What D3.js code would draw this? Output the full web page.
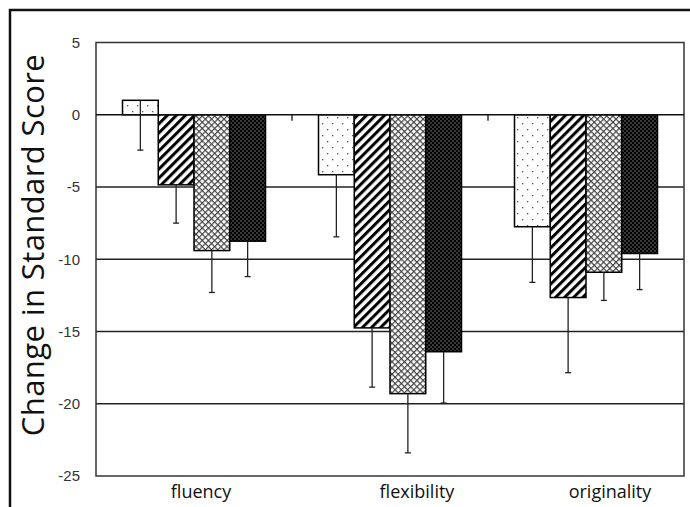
<!DOCTYPE html>
<html>
<head>
<meta charset="utf-8">
<script src="https://cdn.jsdelivr.net/npm/d3@7"></script>
<style>
  body { margin: 0; background: #fff; }
  svg { display: block; }
</style>
</head>
<body>
<svg id="chart" width="690" height="507"></svg>
<script>
const categories = ['fluency', 'flexibility', 'originality'];
const series = ['s1', 's2', 's3', 's4'];
// values per series, one entry per category
const means = {
  s1: [1.0, -4.15, -7.75],
  s2: [-4.85, -14.75, -12.65],
  s3: [-9.4, -19.3, -10.9],
  s4: [-8.75, -16.4, -9.6]
};
// minus-direction error bars
const errors = {
  s1: [3.45, 4.3, 3.85],
  s2: [2.65, 4.1, 5.2],
  s3: [2.9, 4.1, 1.95],
  s4: [2.45, 3.55, 2.5]
};
const yTicks = [5, 0, -5, -10, -15, -20, -25];

const margin = { left: 96, right: 6, top: 42.5, bottom: 31 };
const width = 690, height = 507;
const svg = d3.select('#chart');

const x = d3.scaleBand().domain(categories).range([margin.left, width - margin.right]);
const inner = d3.scaleBand().domain(series).range([26.5, x.bandwidth() - 26.5]);
const y = d3.scaleLinear().domain([-25, 5]).range([height - margin.bottom, margin.top]);

// fill patterns
const defs = svg.append('defs');

const p1 = defs.append('pattern').attr('id', 'pat-s1')
  .attr('patternUnits', 'userSpaceOnUse').attr('width', 10).attr('height', 12);
p1.append('rect').attr('width', 10).attr('height', 12).attr('fill', '#fff');
p1.append('rect').attr('x', 2).attr('y', 3).attr('width', 1.3).attr('height', 1.3).attr('fill', '#555');
p1.append('rect').attr('x', 7).attr('y', 9).attr('width', 1.3).attr('height', 1.3).attr('fill', '#555');

const p2 = defs.append('pattern').attr('id', 'pat-s2')
  .attr('patternUnits', 'userSpaceOnUse').attr('width', 6.4).attr('height', 6.4)
  .attr('patternTransform', 'rotate(45)');
p2.append('rect').attr('width', 6.4).attr('height', 6.4).attr('fill', '#fff');
p2.append('rect').attr('width', 3).attr('height', 6.4).attr('fill', '#000');

const p3 = defs.append('pattern').attr('id', 'pat-s3')
  .attr('patternUnits', 'userSpaceOnUse').attr('width', 4.4).attr('height', 4.4)
  .attr('patternTransform', 'rotate(45)');
p3.append('rect').attr('width', 4.4).attr('height', 4.4).attr('fill', '#fff');
p3.append('rect').attr('width', 1.2).attr('height', 4.4).attr('fill', '#444');
p3.append('rect').attr('width', 4.4).attr('height', 1.2).attr('fill', '#444');

const p4 = defs.append('pattern').attr('id', 'pat-s4')
  .attr('patternUnits', 'userSpaceOnUse').attr('width', 4).attr('height', 4);
p4.append('rect').attr('width', 4).attr('height', 4).attr('fill', '#000');
p4.append('rect').attr('x', 0.5).attr('y', 0.5).attr('width', 1).attr('height', 1).attr('fill', '#ddd');
p4.append('rect').attr('x', 2.5).attr('y', 2.5).attr('width', 1).attr('height', 1).attr('fill', '#ddd');

// outer frame (top + left only visible)
svg.append('path')
  .attr('d', `M10,${height + 5}V10H${width + 5}`)
  .attr('fill', 'none').attr('stroke', '#111').attr('stroke-width', 2.5);

// gridlines
svg.append('g').selectAll('line')
  .data(yTicks.filter(d => d !== 0 && d !== -25 && d !== 5))
  .join('line')
  .attr('x1', margin.left).attr('x2', width - margin.right)
  .attr('y1', d => y(d)).attr('y2', d => y(d))
  .attr('stroke', '#222').attr('stroke-width', 1.4);

// plot frame
svg.append('rect')
  .attr('x', margin.left).attr('y', y(5))
  .attr('width', width - margin.right - margin.left)
  .attr('height', y(-25) - y(5))
  .attr('fill', 'none').attr('stroke', '#333').attr('stroke-width', 1.5);

// y tick labels
const yAxis = svg.append('g')
  .attr('transform', `translate(${margin.left - 16},0)`)
  .call(d3.axisLeft(y).tickValues(yTicks).tickSize(0).tickFormat(d => String(d)));
yAxis.select('.domain').remove();
yAxis.selectAll('text')
  .attr('font-family', '"Liberation Sans Narrow", "Arial Narrow", sans-serif')
  .attr('font-size', 15).attr('fill', '#333').attr('x', 0);

// bars
const rows = [];
series.forEach(s => categories.forEach((c, i) => rows.push({ s, c, v: means[s][i], e: errors[s][i] })));

svg.append('g').selectAll('rect')
  .data(rows)
  .join('rect')
  .attr('x', d => x(d.c) + inner(d.s))
  .attr('width', inner.bandwidth())
  .attr('y', d => y(Math.max(0, d.v)))
  .attr('height', d => Math.abs(y(d.v) - y(0)))
  .attr('fill', d => `url(#pat-${d.s})`)
  .attr('stroke', '#000').attr('stroke-width', 1.5);

// error bars (minus direction)
const eb = svg.append('g').attr('stroke', '#222').attr('stroke-width', 1.3);
eb.selectAll('line.stem')
  .data(rows).join('line').attr('class', 'stem')
  .attr('x1', d => x(d.c) + inner(d.s) + inner.bandwidth() / 2)
  .attr('x2', d => x(d.c) + inner(d.s) + inner.bandwidth() / 2)
  .attr('y1', d => y(d.v)).attr('y2', d => y(d.v - d.e));
eb.selectAll('line.cap')
  .data(rows).join('line').attr('class', 'cap')
  .attr('x1', d => x(d.c) + inner(d.s) + inner.bandwidth() / 2 - 3)
  .attr('x2', d => x(d.c) + inner(d.s) + inner.bandwidth() / 2 + 3)
  .attr('y1', d => y(d.v - d.e)).attr('y2', d => y(d.v - d.e));

// zero axis with category ticks
const xAxis = svg.append('g').attr('transform', `translate(0,${y(0)})`);
xAxis.append('line')
  .attr('x1', margin.left).attr('x2', width - margin.right)
  .attr('stroke', '#111').attr('stroke-width', 1.5);
xAxis.selectAll('line.tk')
  .data(categories.slice(1)).join('line').attr('class', 'tk')
  .attr('x1', d => x(d)).attr('x2', d => x(d))
  .attr('y1', 0).attr('y2', 6)
  .attr('stroke', '#111').attr('stroke-width', 1.3);

// category labels (placed slightly right of band centre, as in the original)
const labelNudge = [7, 27, 24];
svg.append('g').selectAll('text')
  .data(categories).join('text')
  .attr('x', (d, i) => x(d) + x.bandwidth() / 2 + labelNudge[i])
  .attr('y', 498)
  .attr('text-anchor', 'middle')
  .attr('font-family', '"Open Sans", "Noto Sans", sans-serif')
  .attr('font-size', 18).attr('fill', '#111')
  .text(d => d);

// y title
svg.append('text')
  .attr('transform', 'translate(44,245) rotate(-90)')
  .attr('text-anchor', 'middle')
  .attr('font-family', '"Open Sans", "Noto Sans", sans-serif')
  .attr('font-size', 31).attr('letter-spacing', 0.4).attr('fill', '#111')
  .text('Change in Standard Score');
</script>
</body>
</html>
